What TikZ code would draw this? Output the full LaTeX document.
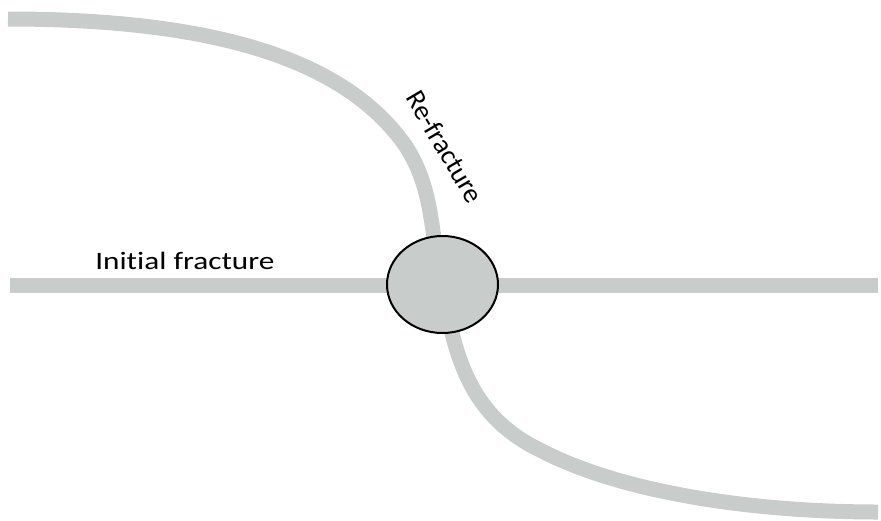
\documentclass[tikz,border=0pt]{standalone}
\usepackage{fontspec}
\setmainfont{Carlito}[Ligatures=NoCommon]
\usetikzlibrary{shapes.geometric}
\definecolor{frac}{RGB}{200,205,203}
\begin{document}
\begin{tikzpicture}[x=1pt,y=-1pt,
  fracline/.style={draw=frac,line width=15pt,line cap=butt},
  lbl/.style={font=\fontsize{25}{30}\selectfont,inner sep=0pt}]
\useasboundingbox (0,0) rectangle (881,520);
% initial fracture (horizontal)
\coordinate (hl) at (10,285.5);
\coordinate (hr) at (878,285.5);
\draw[fracline] (hl) -- (hr);
% re-fracture, upper branch
\coordinate (ts) at (8,19);
\coordinate (tm) at (405,145);
\coordinate (te) at (437,262);
\draw[fracline] (ts) .. controls (250,19) and (355,75) .. (tm)
  .. controls (428,180) and (431,215) .. (te);
% re-fracture, lower branch
\coordinate (bs) at (446,305);
\coordinate (bm) at (540,450);
\coordinate (be) at (878,512);
\draw[fracline] (bs) .. controls (458,370) and (478,420) .. (bm)
  .. controls (620,492) and (750,512) .. (be);
% intersection
\node[draw=black,line width=2pt,fill=frac,ellipse,minimum width=111pt,minimum height=97pt,inner sep=0pt] (x) at (442.5,284.5) {};
% labels
\begin{scope}[xscale=1.25]
\node[lbl,anchor=base west,transform shape] (ini) at (95/1.25,269) {Initial fracture};
\end{scope}
\node[lbl,font=\fontsize{27.5}{32}\selectfont,rotate=-59.5] (re) at (445,147) {Re-fracture};
\end{tikzpicture}
\end{document}
